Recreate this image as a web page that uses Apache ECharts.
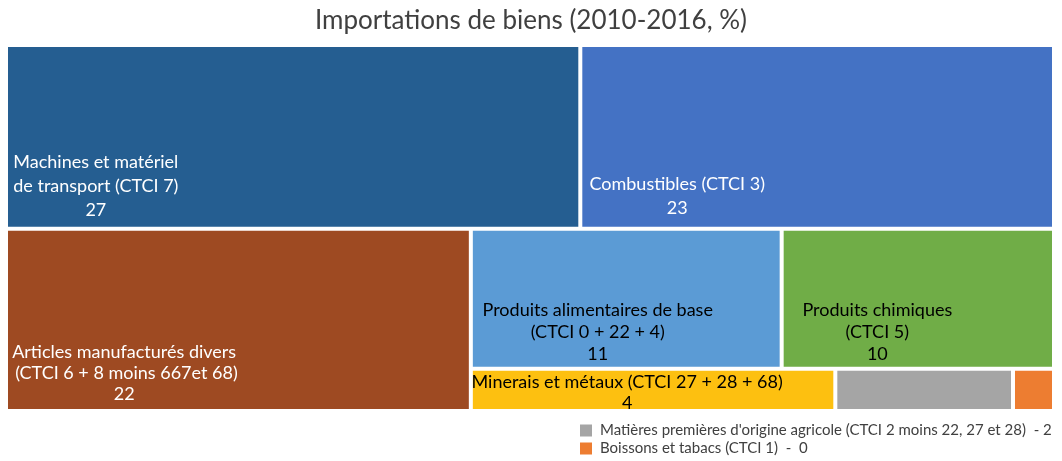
<!DOCTYPE html>
<html>
<head>
<meta charset="utf-8">
<script src="https://cdn.jsdelivr.net/npm/echarts@6/dist/echarts.min.js"></script>
<style>
  html, body { margin: 0; padding: 0; background: #ffffff; }
  #chart { width: 1062px; height: 461px; }
</style>
</head>
<body>
<div id="chart"></div>
<script>
// ---- data ----
const title = 'Importations de biens (2010-2016, %)';
const categories = [
  'Machines et matériel\nde transport (CTCI 7)',
  'Combustibles (CTCI 3)',
  'Articles manufacturés divers\n (CTCI 6 + 8 moins 667et 68)',
  'Produits alimentaires de base\n(CTCI 0 + 22 + 4)',
  'Produits chimiques\n(CTCI 5)',
  'Minerais et métaux (CTCI 27 + 28 + 68)',
  "Matières premières d'origine agricole (CTCI 2 moins 22, 27 et 28)",
  'Boissons et tabacs (CTCI 1)'
];
// shares (%); labels show rounded values
const values = [27.4, 22.6, 22, 11.3, 9.9, 4.0, 1.95, 0.45];
// slice-and-dice hierarchy (indices into categories / values)
const hierarchy = [[0, 1], [2, [[3, 4], [5, 6, 7]]]];
// which items are shown in the legend instead of in their cell
const legendItems = [6, 7];

// ---- styles ----
const colors = ['#255E91', '#4472C4', '#9E4A22', '#5B9BD5', '#70AD47', '#FDC010', '#A5A5A5', '#ED7D31'];
const textColors = ['#ffffff', '#ffffff', '#ffffff', '#000000', '#000000', '#000000', null, null];
// label anchor (fraction of cell width / height) and line height
const labelAnchor = [[0.154, 0.773], [0.202, 0.829], [0.252, 0.80], [0.407, 0.743], [0.349, 0.743], [0.428, 0.566], null, null];
const labelLineHeight = [24, 24, 21, 22, 22, 21, 0, 0];

// ---- slice-and-dice layout in [0,1] data space ----
function sumNode(n) { return Array.isArray(n) ? n.reduce((s, c) => s + sumNode(c), 0) : values[n]; }
const cells = [];
function layout(node, x0, y0, x1, y1, depth) {
  if (!Array.isArray(node)) { cells.push([x0, y0, x1, y1, node]); return; }
  const total = sumNode(node);
  let pos = depth % 2 === 0 ? y0 : x0;
  node.forEach(function (child) {
    const f = sumNode(child) / total;
    if (depth % 2 === 0) {
      const next = pos + f * (y1 - y0);
      layout(child, x0, pos, x1, next, depth + 1);
      pos = next;
    } else {
      const next = pos + f * (x1 - x0);
      layout(child, pos, y0, next, y1, depth + 1);
      pos = next;
    }
  });
}
layout(hierarchy, 0, 0, 1, 1, 0);

const gap = 2;
const chart = echarts.init(document.getElementById('chart'), null, { renderer: 'canvas' });

const series = [{
  type: 'custom',
  name: 'cells',
  coordinateSystem: 'cartesian2d',
  silent: true,
  data: cells,
  encode: { x: [0, 2], y: [1, 3] },
  renderItem: function (params, api) {
    const i = api.value(4);
    const p0 = api.coord([api.value(0), api.value(1)]);
    const p1 = api.coord([api.value(2), api.value(3)]);
    const x = p0[0] + gap, y = p0[1] + gap;
    const w = p1[0] - p0[0] - 2 * gap, h = p1[1] - p0[1] - 2 * gap;
    const children = [{
      type: 'rect',
      shape: { x: x, y: y, width: w, height: h },
      style: { fill: colors[i] }
    }];
    if (labelAnchor[i]) {
      children.push({
        type: 'text',
        x: x + labelAnchor[i][0] * w,
        y: y + labelAnchor[i][1] * h,
        style: {
          text: categories[i] + '\n' + Math.round(values[i]),
          align: 'center',
          verticalAlign: 'middle',
          fill: textColors[i],
          font: '18px Lato',
          lineHeight: labelLineHeight[i]
        }
      });
    }
    return { type: 'group', children: children };
  }
}];
legendItems.forEach(function (i) {
  series.push({ type: 'custom', name: categories[i], color: colors[i], data: [], renderItem: function () { return null; } });
});

chart.setOption({
  animation: false,
  title: {
    text: title,
    left: 'center',
    top: 3,
    textStyle: { fontFamily: 'Lato', fontSize: 26, fontWeight: 'normal', color: '#404040' }
  },
  grid: { left: 6, right: 8, top: 45, bottom: 50 },
  xAxis: { type: 'value', min: 0, max: 1, show: false },
  yAxis: { type: 'value', min: 0, max: 1, inverse: true, show: false },
  legend: {
    orient: 'vertical',
    left: 580,
    top: 423,
    padding: 0,
    itemGap: 3,
    itemWidth: 12,
    itemHeight: 12,
    icon: 'rect',
    selectedMode: false,
    data: legendItems.map(function (i) { return categories[i]; }),
    formatter: function (name) {
      const i = categories.indexOf(name);
      return name + (i === 6 ? '  - ' : '  -  ') + Math.round(values[i]);
    },
    textStyle: { fontFamily: 'Lato', fontSize: 15, color: '#404040', padding: [0, 0, 0, 3] }
  },
  series: series
});
</script>
</body>
</html>
